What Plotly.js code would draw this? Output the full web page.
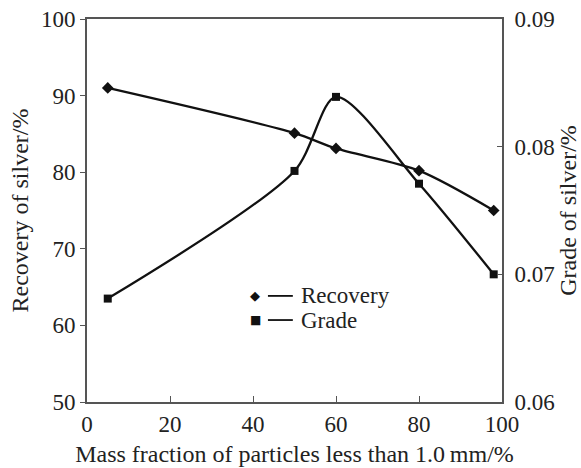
<!DOCTYPE html>
<html>
<head>
<meta charset="utf-8">
<script src="https://cdn.plot.ly/plotly-3.0.1.min.js"></script>
<style>html,body{margin:0;padding:0;background:#fff;}#chart{width:581px;height:468px;}</style>
</head>
<body>
<div id="chart"></div>
<script>
const massFraction = [5, 50, 60, 80, 98];
const recovery = [91.0, 85.1, 83.1, 80.2, 75.0];
const grade = [0.0681, 0.0781, 0.0839, 0.0771, 0.0700];
const xTicks = [0, 20, 40, 60, 80, 100];
const yTicks = [50, 60, 70, 80, 90, 100];
const y2Ticks = [0.06, 0.07, 0.08, 0.09];
const y2TickText = ['0.06', '0.07', '0.08', '0.09'];
const seriesNames = ['Recovery', 'Grade'];
const seriesSymbols = ['\u25C6', '\u25A0'];

const F = 'Liberation Serif, Times New Roman, serif';
const FS = 23;
const TFS = 24;
const axisColor = '#555';
const textColor = '#222';

const traces = [
  {x: massFraction, y: recovery, name: seriesNames[0], type: 'scatter', mode: 'lines+markers',
   line: {color: '#111', width: 2.3, shape: 'spline', smoothing: 0.8},
   marker: {symbol: 'diamond', size: 9, color: '#111'}},
  {x: massFraction, y: grade, name: seriesNames[1], type: 'scatter', mode: 'lines+markers', yaxis: 'y2',
   line: {color: '#111', width: 2.3, shape: 'spline', smoothing: 0.8},
   marker: {symbol: 'square', size: 8, color: '#111'}}
];

// legend drawn as symbol + short line + label
const legendY = [0.277, 0.214];
const annotations = [];
const shapes = [];
seriesNames.forEach((name, i) => {
  annotations.push({xref: 'paper', yref: 'paper', x: 0.405, y: legendY[i], xanchor: 'center', yanchor: 'middle',
    text: seriesSymbols[i], showarrow: false, font: {family: 'DejaVu Sans', size: i === 0 ? 13 : 12, color: '#111'}});
  shapes.push({type: 'line', xref: 'paper', yref: 'paper', x0: 0.436, x1: 0.496, y0: legendY[i], y1: legendY[i],
    line: {color: '#111', width: 1.8}});
  annotations.push({xref: 'paper', yref: 'paper', x: 0.512, y: legendY[i], xanchor: 'left', yanchor: 'middle',
    text: name, showarrow: false, font: {family: F, size: FS, color: textColor}});
});

const layout = {
  width: 581, height: 468,
  margin: {l: 87, r: 79, t: 19, b: 66},
  paper_bgcolor: '#fff', plot_bgcolor: '#fff',
  font: {family: F, size: FS, color: textColor},
  showlegend: false,
  annotations: annotations,
  shapes: shapes,
  xaxis: {range: [0, 100], tickvals: xTicks, ticks: 'inside', ticklen: 6, tickcolor: axisColor,
          showline: true, linecolor: axisColor, linewidth: 2, mirror: true, showgrid: false, zeroline: false,
          tickfont: {family: F, size: FS, color: textColor},
          title: {text: 'Mass fraction of particles less than 1.0\u2009mm/%', font: {family: F, size: TFS, color: textColor}, standoff: 10}},
  yaxis: {range: [50, 100], tickvals: yTicks, ticks: 'outside', ticklen: 5, tickcolor: axisColor,
          showline: true, linecolor: axisColor, linewidth: 2, showgrid: false, zeroline: false,
          tickfont: {family: F, size: FS, color: textColor},
          title: {text: 'Recovery of silver/%', font: {family: F, size: TFS, color: textColor}, standoff: 6}},
  yaxis2: {range: [0.06, 0.09], tickvals: y2Ticks, ticktext: y2TickText, overlaying: 'y', side: 'right',
           ticks: 'inside', ticklen: 5, tickcolor: axisColor, ticklabelstandoff: 6,
           showline: true, linecolor: axisColor, linewidth: 2, showgrid: false, zeroline: false,
           tickfont: {family: F, size: FS, color: textColor},
           title: {text: 'Grade of silver/%', font: {family: F, size: TFS, color: textColor}, standoff: 6}}
};

Plotly.newPlot('chart', traces, layout, {displayModeBar: false, staticPlot: true});
</script>
</body>
</html>
